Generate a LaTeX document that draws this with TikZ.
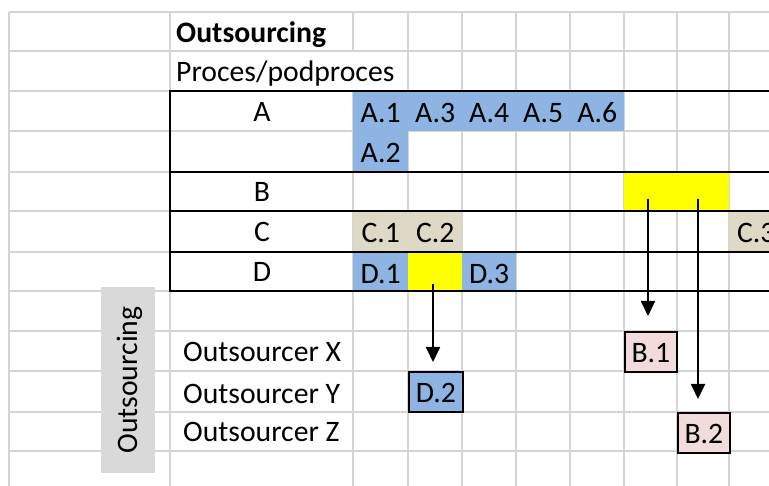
\documentclass[tikz,border=0pt]{standalone}
\usepackage{fontspec}
\setmainfont{Carlito}
\usetikzlibrary{arrows.meta}
\definecolor{gridgray}{HTML}{D4D4D4}
\definecolor{cellblue}{HTML}{8DB4E2}
\definecolor{celltan}{HTML}{DDD9C4}
\definecolor{cellyellow}{HTML}{FFFF00}
\definecolor{cellpink}{HTML}{F2DCDB}
\definecolor{boxgray}{HTML}{D9D9D9}
\tikzset{
  gridline/.style={draw=gridgray, line width=2pt},
  blackline/.style={draw=black, line width=2.6pt},
  cell/.style={rectangle, inner sep=0pt, anchor=north west, text height=31pt, text depth=9pt, minimum height=40pt, minimum width=#1},
  cell/.default=54pt,
  boxed/.style={cell=#1, draw=black, line width=1.8pt},
  boxed/.default=53pt,
  lbl/.style={anchor=base west, inner sep=0pt},
  clbl/.style={anchor=base, inner sep=0pt},
  arr/.style={draw=black, line width=1.8pt, -{Triangle[width=14pt,length=15pt]}}
}
\begin{document}
\begin{tikzpicture}[x=1pt,y=-1pt,font=\fontsize{29.7}{34}\selectfont]
\useasboundingbox (0,0) rectangle (769,486);
\clip (0,0) rectangle (769,486);
% grid
\foreach \y in {12,51,91,131,172,211,252,291,331,371,412,451}
  \draw[gridline] (9,\y) -- (769,\y);
\foreach \x in {9,170,408,462,516,570,624,677,729}
  \draw[gridline] (\x,12) -- (\x,486);
\draw[gridline] (353,12) -- (353,51);
\draw[gridline] (353,91) -- (353,486);
% filled cells
\node[cell=271pt, fill=cellblue] (arow) at (353,91) {};
\node[cell=55pt, fill=cellblue] (a1) at (353,91) {A.1};
\node[cell=54pt] (a3) at (408,91) {A.3};
\node[cell=54pt] (a4) at (462,91) {A.4};
\node[cell=54pt] (a5) at (516,91) {A.5};
\node[cell=54pt] (a6) at (570,91) {A.6};
\node[cell=55pt, fill=cellblue] (a2) at (353,131) {A.2};
\node[cell=105pt, fill=cellyellow, minimum height=39pt] (bcell) at (624,172) {};
\node[cell=55pt, fill=celltan] (c1) at (353,211) {C.1};
\node[cell=54pt, fill=celltan] (c2) at (408,211) {C.2};
\node[cell=54pt, fill=celltan] (c3) at (729,211) {C.3};
\node[cell=55pt, fill=cellblue, minimum height=39pt] (d1) at (353,252) {D.1};
\node[cell=54pt, fill=cellyellow, minimum height=39pt] (dy) at (408,252) {};
\node[cell=54pt, fill=cellblue, minimum height=39pt] (d3) at (462,252) {D.3};
% black frame
\foreach \y in {91,172,211,252,291}
  \draw[blackline] (170,\y) -- (780,\y);
\draw[blackline] (170,89.7) -- (170,292.3);
% row labels
\node[lbl, font=\fontsize{29.7}{34}\selectfont\bfseries] (title) at (176,43) {Outsourcing};
\node[lbl] (proc) at (176,82) {Proces/podproces};
\node[clbl] (la) at (262,122) {A};
\node[clbl] (lb) at (262,202) {B};
\node[clbl] (lc) at (262,242) {C};
\node[clbl] (ld) at (262,282) {D};
\node[lbl] (ox) at (183,362) {Outsourcer X};
\node[lbl] (oy) at (183,403) {Outsourcer Y};
\node[lbl] (oz) at (183,442) {Outsourcer Z};
% vertical outsourcing label
\node[rectangle, fill=boxgray, inner sep=0pt, minimum width=54pt, minimum height=186pt] (ogbox) at (128,380) {};
\node[rotate=90, anchor=base, inner sep=0pt] (ogtext) at (137,380) {Outsourcing};
% outsourced boxes
\node[boxed=54pt, fill=cellblue] (d2) at (408,371) {D.2};
\node[boxed=52pt, fill=cellpink] (b1) at (624,331) {B.1};
\node[boxed=52pt, fill=cellpink] (b2) at (677,412) {B.2};
% arrows
\coordinate (s1) at (648,199);
\coordinate (s2) at (698,199);
\coordinate (s3) at (433,284);
\draw[arr, shorten >=15pt] (s1) -- (s1 |- b1.north);
\draw[arr, shorten >=13pt] (s2) -- (s2 |- b2.north);
\draw[arr, shorten >=9pt] (s3) -- (s3 |- d2.north);
\end{tikzpicture}
\end{document}
